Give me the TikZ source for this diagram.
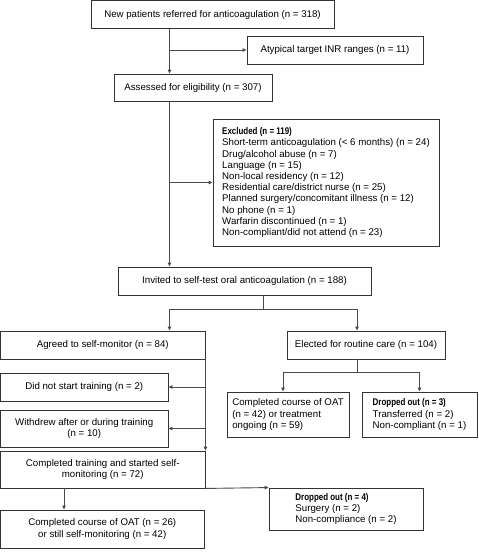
\documentclass[tikz,border=0pt]{standalone}
\usepackage{fontspec}
\setmainfont{Liberation Sans}
\newfontfamily\condfam{Liberation Sans}[FakeStretch=0.82]
\usetikzlibrary{arrows.meta,calc}
\definecolor{boxc}{HTML}{333333}
\definecolor{linec}{HTML}{4A4A4A}
\begin{document}
\begin{tikzpicture}[x=1pt,y=-1pt,
  font=\fontsize{9.7}{11.2}\selectfont,
  box/.style={draw=boxc, line width=0.9pt, inner sep=0pt, align=center},
  lbox/.style={box, align=left},
  conn/.style={draw=linec, line width=0.9pt},
  arr/.style={conn, -{Triangle[length=4pt,width=3.6pt]}}]
\useasboundingbox[fill=white] (0,0) rectangle (479,552);
\newcommand\hd[1]{{\condfam\bfseries #1}}
% boxes
\node[box, minimum width=243, minimum height=28] (b1) at (212.5,14.5) {New patients referred for anticoagulation (n = 318)};
\node[box, minimum width=176, minimum height=28] (atyp) at (335,50) {Atypical target INR ranges (n = 11)};
\node[box, minimum width=158, minimum height=27] (assess) at (193,87.5) {Assessed for eligibility (n = 307)};
\node[lbox, minimum width=226, minimum height=127] (excl) at (326,182.5) {\hd{Excluded (n = 119)}\\
Short-term anticoagulation (< 6 months) (n = 24)\\
Drug/alcohol abuse (n = 7)\\
Language (n = 15)\\
Non-local residency (n = 12)\\
Residential care/district nurse (n = 25)\\
Planned surgery/concomitant illness (n = 12)\\
No phone (n = 1)\\
Warfarin discontinued (n = 1)\\
Non-compliant/did not attend (n = 23)};
\node[box, minimum width=253, minimum height=28] (invited) at (244.5,281) {Invited to self-test oral anticoagulation (n = 188)};
\node[box, minimum width=204.5, minimum height=28] (agreed) at (102.75,345) {Agreed to self-monitor (n = 84)};
\node[box, minimum width=158, minimum height=28] (elected) at (366,345) {Elected for routine care (n = 104)};
\node[box, minimum width=167.5, minimum height=28] (didnot) at (84.25,387) {Did not start training (n = 2)};
\node[box, minimum width=167.5, minimum height=37] (withdrew) at (84.25,428.5) {Withdrew after or during training\\(n = 10)};
\node[lbox, minimum width=122, minimum height=45] (complOAT) at (288,414.5) {Completed course of OAT\\(n = 42) or treatment\\ongoing (n = 59)};
\node[lbox, minimum width=115, minimum height=45] (drop3) at (419.5,414.5) {\hd{Dropped out (n = 3)}\\Transferred (n = 2)\\Non-compliant (n = 1)};
\node[box, minimum width=204.5, minimum height=37] (compltrain) at (102.75,469.5) {Completed training and started self-\\monitoring (n = 72)};
\node[box, minimum width=203.5, minimum height=38] (final) at (102.25,529) {Completed course of OAT (n = 26)\\or still self-monitoring (n = 42)};
\node[lbox, minimum width=154, minimum height=42] (drop4) at (346,509) {\hd{Dropped out (n = 4)}\\Surgery (n = 2)\\Non-compliance (n = 2)};
% connectors
\coordinate (v1) at (169.5,0);
\coordinate (v2) at (357,0);
\coordinate (v3) at (283,0);
\coordinate (v4) at (64,0);
\coordinate (s1) at (263,309);
\coordinate (s2) at (357,372);
\draw[arr] (b1.south -| v1) -- (assess.north -| v1);
\draw[arr] (v1 |- atyp.west) -- (atyp.west);
\draw[arr] (assess.south -| v1) -- (invited.north -| v1);
\draw[arr] (v1 |- excl.west) -- (excl.west);
\draw[conn] (invited.south -| s1) -- (s1);
\draw[arr] (s1) -| (agreed.north -| v1);
\draw[arr] (s1) -| (elected.north -| v2);
\draw[conn] (elected.south -| s2) -- (s2);
\draw[arr] (s2) -| (complOAT.north -| v3);
\draw[arr] (s2) -| (drop3.north);
\draw[arr] (agreed.south east) -- (compltrain.north east);
\draw[arr] (didnot.east -| agreed.east) -- (didnot.east);
\draw[arr] (withdrew.east -| agreed.east) -- (withdrew.east);
\draw[arr] (compltrain.south east) -- (drop4.north west);
\draw[arr] (compltrain.south -| v4) -- (final.north -| v4);
\end{tikzpicture}
\end{document}
